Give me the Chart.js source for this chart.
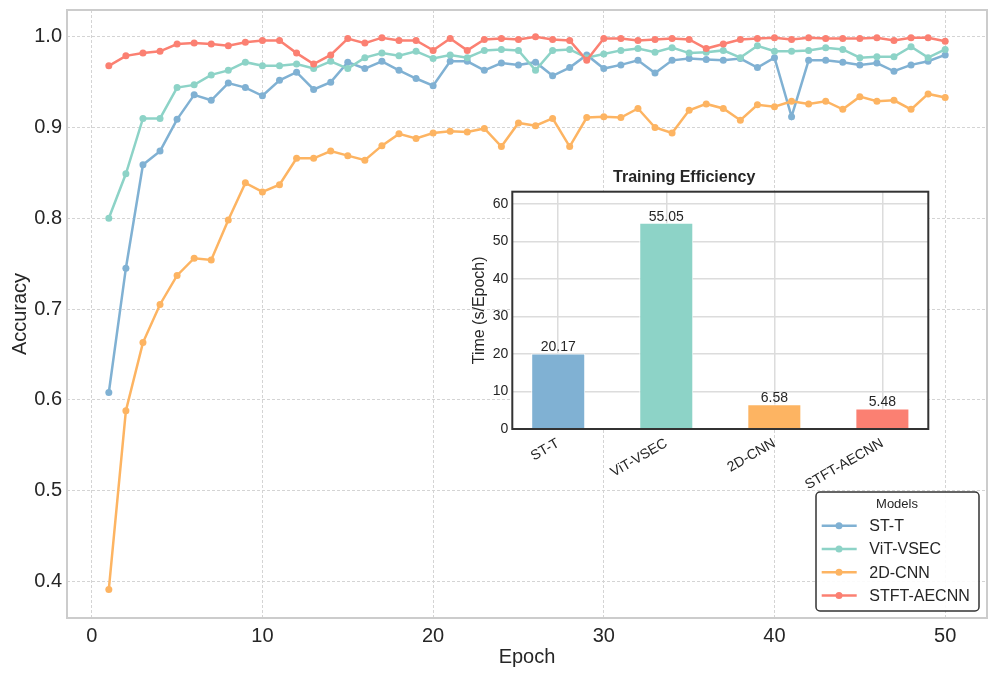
<!DOCTYPE html>
<html>
<head>
<meta charset="utf-8">
<script src="https://cdn.jsdelivr.net/npm/chart.js@4.4.1/dist/chart.umd.min.js"></script>
<style>
  body { margin: 0; background: #fff; }
  #wrap { position: relative; width: 997px; height: 677px; }
  #mainChart { position: absolute; left: 0; top: 0; }
  #insetChart { position: absolute; left: 440px; top: 150px; }
</style>
</head>
<body>
<div id="wrap">
  <canvas id="mainChart" width="997" height="677"></canvas>
  <canvas id="insetChart" width="510" height="350"></canvas>
</div>
<script>
// accuracy per epoch
var epochs = [1, 2, 3, 4, 5, 6, 7, 8, 9, 10, 11, 12, 13, 14, 15, 16, 17, 18, 19, 20,
  21, 22, 23, 24, 25, 26, 27, 28, 29, 30, 31, 32, 33, 34, 35, 36, 37, 38, 39, 40,
  41, 42, 43, 44, 45, 46, 47, 48, 49, 50];

var stT = [0.608, 0.745, 0.859, 0.874, 0.909, 0.936, 0.930, 0.949, 0.944, 0.935,
  0.952, 0.961, 0.942, 0.950, 0.972, 0.965, 0.973, 0.963, 0.954, 0.946,
  0.973, 0.973, 0.963, 0.971, 0.969, 0.972, 0.957, 0.966, 0.980, 0.965,
  0.969, 0.974, 0.960, 0.974, 0.976, 0.975, 0.974, 0.976, 0.966, 0.977,
  0.912, 0.974, 0.974, 0.972, 0.969, 0.971, 0.962, 0.969, 0.973, 0.980];

var vitVsec = [0.800, 0.849, 0.910, 0.910, 0.944, 0.947, 0.958, 0.963, 0.972, 0.968,
  0.968, 0.970, 0.965, 0.973, 0.965, 0.977, 0.982, 0.979, 0.984, 0.976,
  0.980, 0.977, 0.985, 0.986, 0.985, 0.963, 0.985, 0.986, 0.977, 0.981,
  0.985, 0.987, 0.983, 0.988, 0.982, 0.983, 0.985, 0.977, 0.990, 0.984,
  0.984, 0.985, 0.988, 0.986, 0.977, 0.978, 0.978, 0.989, 0.977, 0.986];

var cnn2d = [0.391, 0.588, 0.663, 0.705, 0.737, 0.756, 0.754, 0.798, 0.839, 0.829,
  0.837, 0.866, 0.866, 0.874, 0.869, 0.864, 0.880, 0.893, 0.888, 0.894,
  0.896, 0.895, 0.899, 0.879, 0.905, 0.902, 0.910, 0.879, 0.911, 0.912,
  0.911, 0.921, 0.900, 0.894, 0.919, 0.926, 0.921, 0.908, 0.925, 0.923,
  0.929, 0.926, 0.929, 0.920, 0.934, 0.929, 0.930, 0.920, 0.937, 0.933];

var stftAecnn = [0.968, 0.979, 0.982, 0.984, 0.992, 0.993, 0.992, 0.990, 0.994, 0.996,
  0.996, 0.982, 0.970, 0.980, 0.998, 0.993, 0.999, 0.996, 0.996, 0.985,
  0.998, 0.985, 0.997, 0.998, 0.997, 1.000, 0.997, 0.996, 0.974, 0.998,
  0.998, 0.996, 0.997, 0.998, 0.997, 0.987, 0.992, 0.997, 0.998, 0.999,
  0.997, 0.999, 0.998, 0.998, 0.998, 0.999, 0.996, 0.999, 0.999, 0.995];

var xTicks = [0, 10, 20, 30, 40, 50];
var yTicks = [0.4, 0.5, 0.6, 0.7, 0.8, 0.9, 1.0];

// inset: training time
var models = ['ST-T', 'ViT-VSEC', '2D-CNN', 'STFT-AECNN'];
var times = [20.17, 55.05, 6.58, 5.48];
var timeTicks = [0, 10, 20, 30, 40, 50, 60];

var colors = ['#80b1d3', '#8dd3c7', '#fdb462', '#fb8072'];
var seriesValues = [stT, vitVsec, cnn2d, stftAecnn];

Chart.defaults.font.family = '"Liberation Sans", Arial, sans-serif';
Chart.defaults.color = '#262626';

function toPoints(vals) {
  return epochs.map(function(e, i) { return {x: e, y: vals[i]}; });
}

// no extra padding for the edge labels, so the plot box sits where we want it
function noEdgePad(s) {
  s.paddingTop = 0; s.paddingBottom = 0; s.paddingLeft = 0; s.paddingRight = 0;
}

var datasets = models.map(function(name, i) {
  return {
    label: name,
    data: toPoints(seriesValues[i]),
    borderColor: colors[i],
    backgroundColor: colors[i],
    pointBackgroundColor: colors[i],
    pointBorderWidth: 0,
    pointRadius: 3.5,
    borderWidth: 2.5,
    tension: 0,
    order: 4 - i   // last one on top, like matplotlib
  };
});

// light grey frame around the plot
var frame = {
  id: 'frame',
  afterDraw: function(chart) {
    var a = chart.chartArea, ctx = chart.ctx;
    ctx.save();
    ctx.strokeStyle = '#cccccc';
    ctx.lineWidth = 2;
    ctx.strokeRect(a.left, a.top, a.right - a.left, a.bottom - a.top);
    ctx.restore();
  }
};

// legend box in lower right corner
var legendBox = {
  id: 'legendBox',
  afterDraw: function(chart) {
    var ctx = chart.ctx, a = chart.chartArea;
    var w = 163, h = 119;
    var x = a.right - 8 - w, y = a.bottom - 7 - h;
    ctx.save();
    ctx.beginPath();
    ctx.roundRect(x, y, w, h, 4);
    ctx.fillStyle = 'rgba(255,255,255,0.9)';
    ctx.fill();
    ctx.strokeStyle = '#333';
    ctx.lineWidth = 1.5;
    ctx.stroke();
    ctx.fillStyle = '#262626';
    ctx.textAlign = 'center';
    ctx.textBaseline = 'middle';
    ctx.font = '13px "Liberation Sans", Arial, sans-serif';
    ctx.fillText('Models', x + 81, y + 12);
    ctx.font = '16px "Liberation Sans", Arial, sans-serif';
    ctx.textAlign = 'left';
    chart.data.datasets.forEach(function(ds, i) {
      var cy = y + 33.7 + i * 23.3;
      ctx.strokeStyle = ds.borderColor;
      ctx.lineWidth = 2.5;
      ctx.beginPath();
      ctx.moveTo(x + 5.7, cy);
      ctx.lineTo(x + 40.7, cy);
      ctx.stroke();
      ctx.fillStyle = ds.borderColor;
      ctx.beginPath();
      ctx.arc(x + 23, cy, 3.5, 0, Math.PI * 2);
      ctx.fill();
      ctx.fillStyle = '#262626';
      ctx.fillText(ds.label, x + 53.3, cy + 1);
    });
    ctx.restore();
  }
};

var mainChart = new Chart(document.getElementById('mainChart'), {
  type: 'line',
  data: { datasets: datasets },
  options: {
    responsive: false,
    animation: false,
    layout: { padding: { top: 10, right: 10, left: 0, bottom: 0 } },
    plugins: { legend: { display: false }, tooltip: { enabled: false } },
    scales: {
      x: {
        type: 'linear', min: -1.45, max: 52.45,
        afterBuildTicks: function(s) { s.ticks = xTicks.map(function(v) { return {value: v}; }); },
        afterFit: function(s) { s.height = 59; noEdgePad(s); },
        grid: { color: '#d4d4d4', lineWidth: 1, drawTicks: false },
        border: { display: false, dash: [3, 2] },
        ticks: { padding: 6, font: { size: 20 }, color: '#262626' },
        title: { display: true, text: 'Epoch', font: { size: 20 }, color: '#262626', padding: { bottom: 8 } }
      },
      y: {
        min: 0.3595, max: 1.0295,
        afterBuildTicks: function(s) { s.ticks = yTicks.map(function(v) { return {value: v}; }); },
        afterFit: function(s) { s.width = 67; noEdgePad(s); },
        grid: { color: '#d4d4d4', lineWidth: 1, drawTicks: false },
        border: { display: false, dash: [3, 2] },
        ticks: { padding: 5, font: { size: 20 }, color: '#262626', callback: function(v) { return v.toFixed(1); } },
        title: { display: true, text: 'Accuracy', font: { size: 20 }, color: '#262626', padding: { top: 8 } }
      }
    }
  },
  plugins: [frame, legendBox]
});

// white plot area, value labels and dark frame for the inset
var insetDeco = {
  id: 'insetDeco',
  beforeDraw: function(chart) {
    var a = chart.chartArea, ctx = chart.ctx;
    ctx.save();
    ctx.fillStyle = '#fff';
    ctx.fillRect(a.left, a.top, a.right - a.left, a.bottom - a.top);
    ctx.restore();
  },
  afterDatasetsDraw: function(chart) {
    var ctx = chart.ctx;
    ctx.save();
    ctx.fillStyle = '#262626';
    ctx.font = '14px "Liberation Sans", Arial, sans-serif';
    ctx.textAlign = 'center';
    ctx.textBaseline = 'alphabetic';
    chart.getDatasetMeta(0).data.forEach(function(bar, i) {
      ctx.fillText(times[i].toFixed(2), bar.x, bar.y - 2);
    });
    ctx.restore();
  },
  afterDraw: function(chart) {
    var a = chart.chartArea, ctx = chart.ctx;
    ctx.save();
    ctx.strokeStyle = '#333';
    ctx.lineWidth = 2;
    ctx.strokeRect(a.left, a.top, a.right - a.left, a.bottom - a.top);
    ctx.restore();
  }
};

var insetChart = new Chart(document.getElementById('insetChart'), {
  type: 'bar',
  data: {
    datasets: [{
      data: models.map(function(m, i) { return {x: i, y: times[i]}; }),
      backgroundColor: colors,
      borderColor: '#ffffff',
      borderWidth: 1,
      barPercentage: 0.5,
      categoryPercentage: 1
    }]
  },
  options: {
    responsive: false,
    animation: false,
    layout: { padding: { top: 0, right: 21.7, left: 0, bottom: 0 } },
    plugins: {
      legend: { display: false },
      tooltip: { enabled: false },
      title: { display: true, text: 'Training Efficiency', font: { size: 16, weight: 'bold' }, color: '#262626', padding: { top: 18.4, bottom: 4.1 } }
    },
    scales: {
      x: {
        type: 'linear', min: -0.425, max: 3.425, offset: false,
        afterBuildTicks: function(s) { s.ticks = models.map(function(m, i) { return {value: i}; }); },
        afterFit: function(s) { s.height = 71; noEdgePad(s); },
        grid: { color: '#dcdcdc', lineWidth: 1.5, drawTicks: false, offset: false },
        border: { display: false },
        ticks: { minRotation: 30, maxRotation: 30, padding: 6, font: { size: 14 }, color: '#262626',
          callback: function(v) { return models[v]; } }
      },
      y: {
        min: 0, max: 63.3075,
        afterBuildTicks: function(s) { s.ticks = timeTicks.map(function(v) { return {value: v}; }); },
        afterFit: function(s) { s.width = 72.3; noEdgePad(s); },
        grid: { color: '#dcdcdc', lineWidth: 1.5, drawTicks: false },
        border: { display: false },
        ticks: { padding: 4, font: { size: 14 }, color: '#262626' },
        title: { display: true, text: 'Time (s/Epoch)', font: { size: 16 }, color: '#262626', padding: { top: 30.4 } }
      }
    }
  },
  plugins: [insetDeco]
});
</script>
</body>
</html>
